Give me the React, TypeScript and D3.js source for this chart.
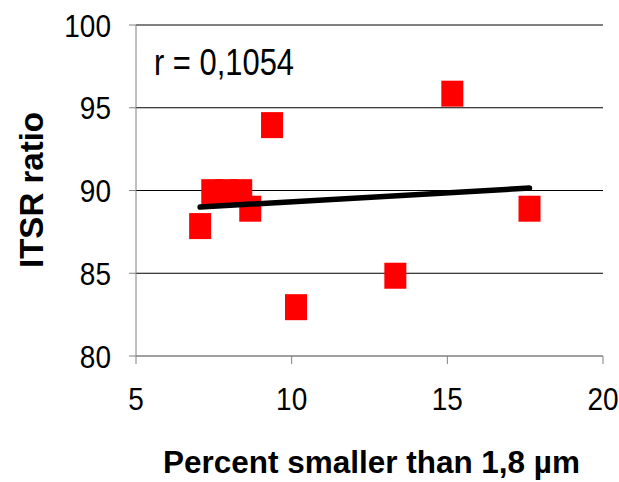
import React from "react";
import * as d3 from "d3";

// Sample values: fine fraction (%) against ITSR ratio
const percentFine = [7.06, 7.45, 7.9, 8.38, 8.67, 9.37, 10.14, 13.33, 15.16, 17.64];
const itsrRatio = [87.85, 89.9, 89.9, 89.9, 88.9, 93.95, 82.95, 84.85, 95.85, 88.9];

// Fitted linear trend, end points
const trendX = [7.06, 17.64];
const trendY = [89.0, 90.15];

const xTicks = [5, 10, 15, 20];
const yTicks = [80, 85, 90, 95, 100];

const rLabel = "r = 0,1054";
const xTitle = "Percent smaller than 1,8 µm";
const yTitle = "ITSR ratio";

const W = 619;
const H = 482;
const plot = { left: 136, right: 603, top: 25, bottom: 356 };

// tick labels are drawn slightly taller than wide
const tickFont = 28;
const tickStretch = 1.15;

export default function App() {
  const x = d3.scaleLinear().domain([5, 20]).range([plot.left, plot.right]);
  const y = d3.scaleLinear().domain([80, 100]).range([plot.bottom, plot.top]);

  const trendLine = d3
    .line<number>()
    .x((_, i) => x(trendX[i]))
    .y((d) => y(d))(trendY);

  const font = "'Liberation Sans', Arial, sans-serif";
  const markW = 22;
  const markH = 26;

  return (
    <svg
      width={W}
      height={H}
      style={{ position: "absolute", left: 0, top: 0, background: "#fff" }}
      fontFamily={font}
    >
      {/* horizontal gridlines */}
      {yTicks.map((t) => (
        <line
          key={"g" + t}
          x1={plot.left}
          x2={plot.right}
          y1={y(t)}
          y2={y(t)}
          stroke={t === 80 ? "#808080" : "#000"}
          strokeWidth={1}
        />
      ))}
      {/* y axis */}
      <line x1={plot.left} x2={plot.left} y1={plot.top} y2={plot.bottom} stroke="#808080" />
      {yTicks.map((t) => (
        <line key={"yt" + t} x1={plot.left - 7} x2={plot.left} y1={y(t)} y2={y(t)} stroke="#808080" />
      ))}
      {/* x axis */}
      <line x1={plot.left} x2={plot.right} y1={plot.bottom} y2={plot.bottom} stroke="#808080" />
      {xTicks.map((t) => (
        <line key={"xt" + t} x1={x(t)} x2={x(t)} y1={plot.bottom} y2={plot.bottom + 8} stroke="#808080" />
      ))}

      {/* tick labels */}
      {yTicks.map((t) => (
        <text
          key={"yl" + t}
          transform={`translate(111, ${y(t)}) scale(1, ${tickStretch})`}
          dy="0.36em"
          textAnchor="end"
          fontSize={tickFont}
          fill="#000"
        >
          {t}
        </text>
      ))}
      {xTicks.map((t) => (
        <text
          key={"xl" + t}
          transform={`translate(${x(t)}, 410) scale(1, ${tickStretch})`}
          textAnchor="middle"
          fontSize={tickFont}
          fill="#000"
        >
          {t}
        </text>
      ))}

      {/* data markers */}
      {percentFine.map((v, i) => (
        <rect
          key={"p" + i}
          x={x(v) - markW / 2}
          y={y(itsrRatio[i]) - markH / 2}
          width={markW}
          height={markH}
          fill="#ff0000"
        />
      ))}

      {/* trend line */}
      <path d={trendLine ?? ""} fill="none" stroke="#000" strokeWidth={5.5} strokeLinecap="round" />

      {/* correlation label */}
      <text
        x={154}
        y={75}
        fontSize={36}
        textLength={140}
        lengthAdjust="spacingAndGlyphs"
        fill="#000"
      >
        {rLabel}
      </text>

      {/* axis titles */}
      <text
        x={163}
        y={473}
        fontSize={31}
        fontWeight="bold"
        textLength={417}
        lengthAdjust="spacingAndGlyphs"
        fill="#000"
      >
        {xTitle}
      </text>
      <text
        transform={`translate(43, 190) rotate(-90)`}
        textAnchor="middle"
        fontSize={34}
        fontWeight="bold"
        textLength={156}
        lengthAdjust="spacingAndGlyphs"
        fill="#000"
      >
        {yTitle}
      </text>
    </svg>
  );
}
